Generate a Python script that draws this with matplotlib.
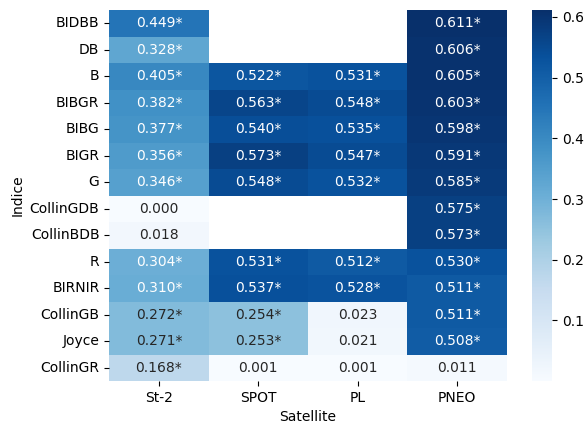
import numpy as np
import pandas as pd
import matplotlib
matplotlib.use("Agg")
import matplotlib.pyplot as plt
import seaborn as sns

indices = ["BIDBB", "DB", "B", "BIBGR", "BIBG", "BIGR", "G", "CollinGDB",
           "CollinBDB", "R", "BIRNIR", "CollinGB", "Joyce", "CollinGR"]
satellites = ["St-2", "SPOT", "PL", "PNEO"]
nan = np.nan
st2 = [0.449, 0.328, 0.405, 0.382, 0.377, 0.356, 0.346, 0.000, 0.018, 0.304, 0.310, 0.272, 0.271, 0.168]
spot = [nan, nan, 0.522, 0.563, 0.540, 0.573, 0.548, nan, nan, 0.531, 0.537, 0.254, 0.253, 0.001]
pl = [nan, nan, 0.531, 0.548, 0.535, 0.547, 0.532, nan, nan, 0.512, 0.528, 0.023, 0.021, 0.001]
pneo = [0.611, 0.606, 0.605, 0.603, 0.598, 0.591, 0.585, 0.575, 0.573, 0.530, 0.511, 0.511, 0.508, 0.011]
signif_st2 = [1, 1, 1, 1, 1, 1, 1, 0, 0, 1, 1, 1, 1, 1]
signif_spot = [0, 0, 1, 1, 1, 1, 1, 0, 0, 1, 1, 1, 1, 0]
signif_pl = [0, 0, 1, 1, 1, 1, 1, 0, 0, 1, 1, 0, 0, 0]
signif_pneo = [1, 1, 1, 1, 1, 1, 1, 1, 1, 1, 1, 1, 1, 0]

df = pd.DataFrame({"St-2": st2, "SPOT": spot, "PL": pl, "PNEO": pneo}, index=indices)
sig = pd.DataFrame({"St-2": signif_st2, "SPOT": signif_spot, "PL": signif_pl, "PNEO": signif_pneo}, index=indices)

labels = df.copy().astype(object)
for c in df.columns:
    for r in df.index:
        v = df.loc[r, c]
        if pd.isna(v):
            labels.loc[r, c] = ""
        else:
            labels.loc[r, c] = f"{v:.3f}" + ("*" if sig.loc[r, c] else "")

fs = 10
fig = plt.figure(figsize=(5.84, 4.24), dpi=100)
ax = fig.add_axes([0.187, 0.101, 0.681, 0.875])
cax = fig.add_axes([0.911, 0.101, 0.035, 0.875])
sns.heatmap(df, ax=ax, cbar_ax=cax, cmap="Blues", annot=labels.values, fmt="",
            annot_kws={"fontsize": fs})
ax.set_xlabel("Satellite", fontsize=fs)
ax.set_ylabel("Indice", fontsize=fs)
ax.tick_params(labelsize=fs)
plt.setp(ax.get_yticklabels(), rotation=0)
cax.tick_params(labelsize=fs)
cax.set_yticks([0.1, 0.2, 0.3, 0.4, 0.5, 0.6])
fig.savefig("out.png", dpi=100)
